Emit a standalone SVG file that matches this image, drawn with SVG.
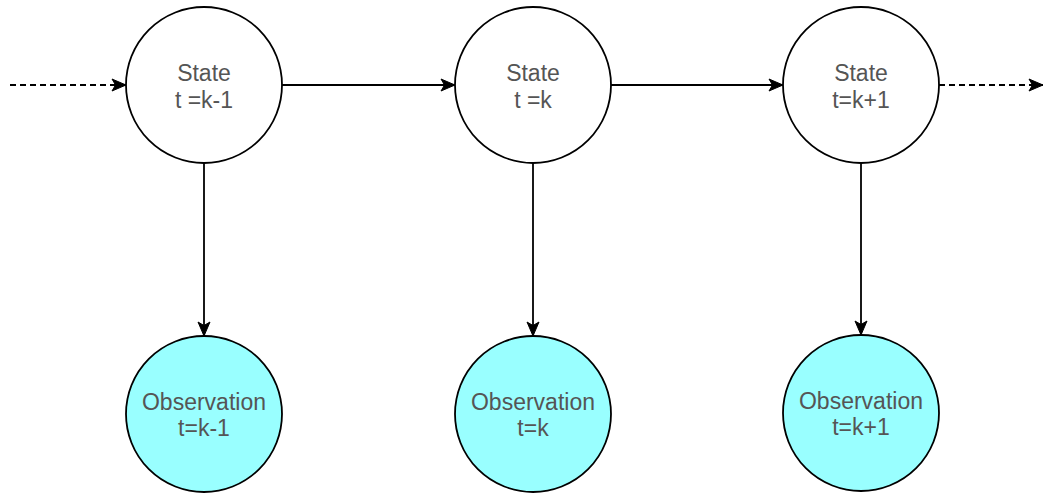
<svg xmlns="http://www.w3.org/2000/svg" width="1046" height="493" viewBox="0 0 1046 493">
  <style>
    .state { fill: #ffffff; stroke: #000000; stroke-width: 1.8; }
    .obs { fill: #99ffff; stroke: #000000; stroke-width: 1.8; }
    .label { font-family: "Liberation Sans", Arial, sans-serif; font-size: 23px; fill: #555555; text-anchor: middle; }
    .edge { fill: none; stroke: #000000; stroke-width: 1.8; }
    .dashed { stroke-dasharray: 6 4; }
  </style>
  <defs>
    <marker id="arrow" markerUnits="userSpaceOnUse" markerWidth="16" markerHeight="14" refX="15" refY="7" orient="auto">
      <path d="M1,1 L15,7 L1,13 L4.5,7 Z" fill="#000000" stroke="#000000" stroke-width="1"/>
    </marker>
  </defs>
  <rect width="1046" height="493" fill="#ffffff"/>

  <g id="connectors">
    <line class="edge dashed" x1="10" y1="85" x2="126" y2="85" marker-end="url(#arrow)"/>
    <line class="edge" x1="282" y1="85" x2="455" y2="85" marker-end="url(#arrow)"/>
    <line class="edge" x1="611" y1="85" x2="783" y2="85" marker-end="url(#arrow)"/>
    <line class="edge dashed" x1="939" y1="85" x2="1043" y2="85" marker-end="url(#arrow)"/>
    <line class="edge" x1="204" y1="163" x2="204" y2="336" marker-end="url(#arrow)"/>
    <line class="edge" x1="533" y1="163" x2="533" y2="336" marker-end="url(#arrow)"/>
    <line class="edge" x1="861" y1="163" x2="861" y2="335" marker-end="url(#arrow)"/>
  </g>

  <g id="state-k-1">
    <circle class="state" cx="204" cy="85" r="78"/>
    <text class="label" x="204" y="81">State</text>
    <text class="label" x="204" y="108">t =k-1</text>
  </g>
  <g id="state-k">
    <circle class="state" cx="533" cy="85" r="78"/>
    <text class="label" x="533" y="81">State</text>
    <text class="label" x="533" y="108">t =k</text>
  </g>
  <g id="state-k+1">
    <circle class="state" cx="861" cy="85" r="78"/>
    <text class="label" x="861" y="81">State</text>
    <text class="label" x="861" y="108">t=k+1</text>
  </g>

  <g id="obs-k-1">
    <circle class="obs" cx="204" cy="414" r="78"/>
    <text class="label" x="204" y="410">Observation</text>
    <text class="label" x="204" y="436">t=k-1</text>
  </g>
  <g id="obs-k">
    <circle class="obs" cx="533" cy="414" r="78"/>
    <text class="label" x="533" y="410">Observation</text>
    <text class="label" x="533" y="436">t=k</text>
  </g>
  <g id="obs-k+1">
    <circle class="obs" cx="861" cy="413" r="78"/>
    <text class="label" x="861" y="409">Observation</text>
    <text class="label" x="861" y="435">t=k+1</text>
  </g>
</svg>
